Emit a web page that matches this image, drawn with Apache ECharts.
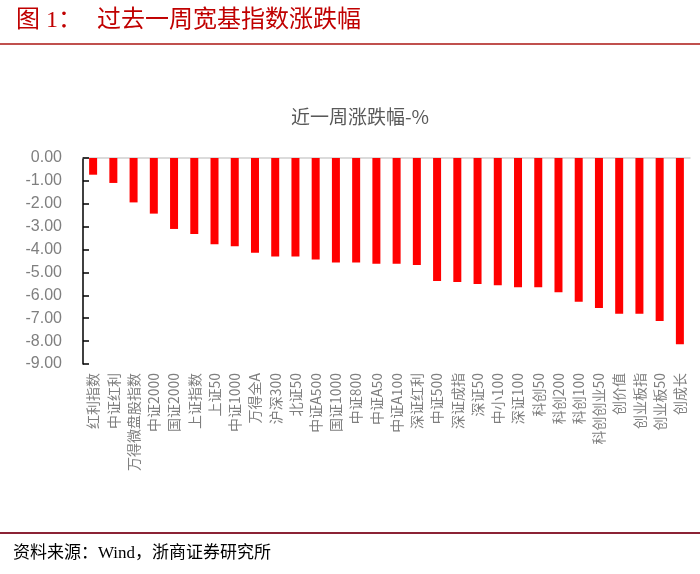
<!DOCTYPE html>
<html><head><meta charset="utf-8">
<script src="https://cdn.jsdelivr.net/npm/echarts@6/dist/echarts.min.js"></script>
<style>html,body{margin:0;padding:0;background:#fff}#c{width:700px;height:574px}</style>
</head><body><div id="c"></div>
<script>
const categories = ["红利指数","中证红利","万得微盘股指数","中证2000","国证2000","上证指数","上证50","中证1000","万得全A","沪深300","北证50","中证A500","国证1000","中证800","中证A50","中证A100","深证红利","中证500","深证成指","深证50","中小100","深证100","科创50","科创200","科创100","科创创业50","创价值","创业板指","创业板50","创成长"];
const weeklyChange = [-0.73,-1.09,-1.94,-2.43,-3.10,-3.32,-3.77,-3.86,-4.14,-4.30,-4.30,-4.43,-4.57,-4.57,-4.62,-4.62,-4.67,-5.37,-5.42,-5.50,-5.56,-5.65,-5.65,-5.87,-6.28,-6.55,-6.80,-6.80,-7.12,-8.14];
const yTicks = {min:-9, max:0, interval:1};

const chart = echarts.init(document.getElementById('c'), null, {renderer:'canvas'});
const serif = '"Liberation Serif","Noto Sans CJK SC",serif';
chart.setOption({
  animation:false,
  backgroundColor:'#fff',
  grid:{left:83, right:10, top:158, bottom:210, containLabel:false},
  graphic:[
    {type:'text', left:16, top:9, style:{text:'图 1：', font:'24px '+serif, fill:'#c00000'}},
    {type:'text', left:97, top:9, style:{text:'过去一周宽基指数涨跌幅', font:'24px '+serif, fill:'#c00000'}},
    {type:'rect', shape:{x:0,y:43,width:700,height:2}, style:{fill:'#c0504d'}},
    {type:'rect', shape:{x:0,y:532,width:700,height:2}, style:{fill:'#8b2335'}},
    {type:'text', left:13, top:545, style:{text:'资料来源：Wind，浙商证券研究所', font:'17px '+serif, fill:'#000'}},
    {type:'text', x:360, y:117, style:{text:'近一周涨跌幅-%', font:'19px "Noto Sans CJK SC",sans-serif', fill:'#595959', align:'center', verticalAlign:'middle'}}
  ],
  xAxis:[
    {type:'category', data:categories, position:'bottom',
     axisLine:{show:false}, axisTick:{show:false},
     axisLabel:{interval:0, rotate:90, margin:9, color:'#7f7f7f', fontSize:14, fontFamily:'"Noto Sans CJK SC",sans-serif'}},
    {type:'category', data:categories, position:'top',
     axisLine:{show:true, onZero:false, lineStyle:{color:'#d0d0d0', width:1.5}}, axisTick:{show:false}, axisLabel:{show:false}}
  ],
  yAxis:{type:'value', min:yTicks.min, max:yTicks.max, interval:yTicks.interval,
    axisLine:{show:true, lineStyle:{color:'#000', width:1.5}},
    axisTick:{show:true, inside:true, length:6, lineStyle:{color:'#000', width:1.5}},
    splitLine:{show:false},
    axisLabel:{margin:21, color:'#7f7f7f', fontSize:16, fontFamily:'"Liberation Sans",Arial,sans-serif', formatter:v=>v.toFixed(2)}},
  series:[{type:'bar', xAxisIndex:0, data:weeklyChange, barWidth:8, itemStyle:{color:'#ff0000'}}]
});
</script></body></html>
